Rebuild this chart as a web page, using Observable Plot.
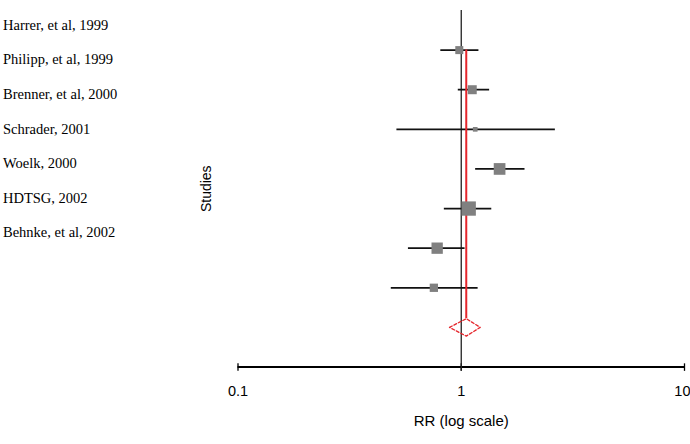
<!DOCTYPE html>
<html>
<head>
<meta charset="utf-8">
<script src="https://cdn.jsdelivr.net/npm/d3@7"></script>
<script src="https://cdn.jsdelivr.net/npm/@observablehq/plot@0.6"></script>
<style>
  html, body { margin: 0; padding: 0; background: #fff; }
  #wrap { position: relative; width: 690px; height: 444px; overflow: hidden; }
  #labels { position: absolute; left: 3px; top: 7.8px; font-family: "Liberation Serif", "Times New Roman", serif; font-size: 14.5px; line-height: 34.6px; color: #000; white-space: nowrap; }
  #chart { position: absolute; left: 0; top: 0; }
</style>
</head>
<body>
<div id="wrap">
  <div id="chart"></div>
  <div id="labels"></div>
</div>
<script>
const studies = ["Harrer, et al, 1999", "Philipp, et al, 1999", "Brenner, et al, 2000", "Schrader, 2001", "Woelk, 2000", "HDTSG, 2002", "Behnke, et al, 2002"];
const rr      = [0.98, 1.12, 1.155, 1.485, 1.08, 0.78, 0.754];
const lower   = [0.81, 0.97, 0.515, 1.16, 0.84, 0.58, 0.486];
const upper   = [1.20, 1.34, 2.64, 1.93, 1.37, 1.04, 1.19];
const weights = [9.1, 11.5, 3.1, 19.4, 29.0, 18.2, 9.8];
const pooledRR = 1.053;
const pooledLower = 0.886;
const pooledUpper = 1.216;
const xTicks = [0.1, 1, 10];
const xTickLabels = ["0.1", "1", "10"];

const rows = studies.map((s, i) => ({study: s, row: i + 1, rr: rr[i], lo: lower[i], hi: upper[i], w: weights[i]}));
const pooledRow = studies.length + 1;
const axisRow = pooledRow + 1;
const half = 0.22;
const diamond = [
  {x: pooledLower, y: pooledRow},
  {x: pooledRR, y: pooledRow - half},
  {x: pooledUpper, y: pooledRow},
  {x: pooledRR, y: pooledRow + half},
  {x: pooledLower, y: pooledRow}
];
const tickData = xTicks.map((t, i) => ({x: t, label: xTickLabels[i]}));
const lastTick = tickData.length - 1;

const chart = Plot.plot({
  width: 690,
  height: 444,
  marginLeft: 237.5,
  marginRight: 6,
  marginTop: 10,
  marginBottom: 77.5,
  x: {type: "log", domain: [0.1, 10], axis: null},
  y: {domain: [0, axisRow], reverse: true, axis: null},
  r: {type: "sqrt", domain: [0, 29], range: [0, 8.07]},
  style: {fontFamily: "'Liberation Sans', Arial, sans-serif", fontSize: "15px", background: "white", color: "black"},
  marks: [
    Plot.ruleY([axisRow], {stroke: "#000", strokeWidth: 1.8}),
    Plot.ruleX(xTicks, {x: d => d, y1: axisRow - 0.08, y2: axisRow + 0.11, stroke: "#000", strokeWidth: 1.3}),
    Plot.ruleX([1], {y1: 0, y2: axisRow + 0.11, stroke: "#222", strokeWidth: 1.3}),
    Plot.text(tickData.filter((d, i) => i < lastTick), {x: "x", text: "label", frameAnchor: "bottom", lineAnchor: "top", dy: 18.5, fill: "#000", fontSize: 14.5}),
    Plot.text(tickData.filter((d, i) => i === lastTick), {x: "x", text: "label", frameAnchor: "bottom", lineAnchor: "top", textAnchor: "end", dx: 6, dy: 18.5, fill: "#000", fontSize: 14.5}),
    Plot.text(["RR (log scale)"], {frameAnchor: "bottom", lineAnchor: "bottom", dy: 58.5, fill: "#000", fontSize: 15}),
    Plot.text(["Studies"], {frameAnchor: "left", textAnchor: "middle", rotate: -90, dx: -31.5, lineAnchor: "middle", fill: "#000", fontSize: 14}),
    Plot.ruleY(rows, {x1: "lo", x2: "hi", y: "row", stroke: "#111", strokeWidth: 1.7}),
    Plot.ruleX([pooledRR], {y1: 1, y2: pooledRow - half, stroke: "#e5262c", strokeWidth: 2}),
    Plot.dot(rows, {x: "rr", y: "row", r: "w", symbol: "square", fill: "#808080", stroke: null}),
    Plot.line(diamond, {x: "x", y: "y", stroke: "#e5262c", strokeWidth: 1.3, strokeDasharray: "3,2"})
  ]
});
document.getElementById("chart").appendChild(chart);
const lab = document.getElementById("labels");
studies.forEach(s => { const d = document.createElement("div"); d.textContent = s; lab.appendChild(d); });
</script>
</body>
</html>
